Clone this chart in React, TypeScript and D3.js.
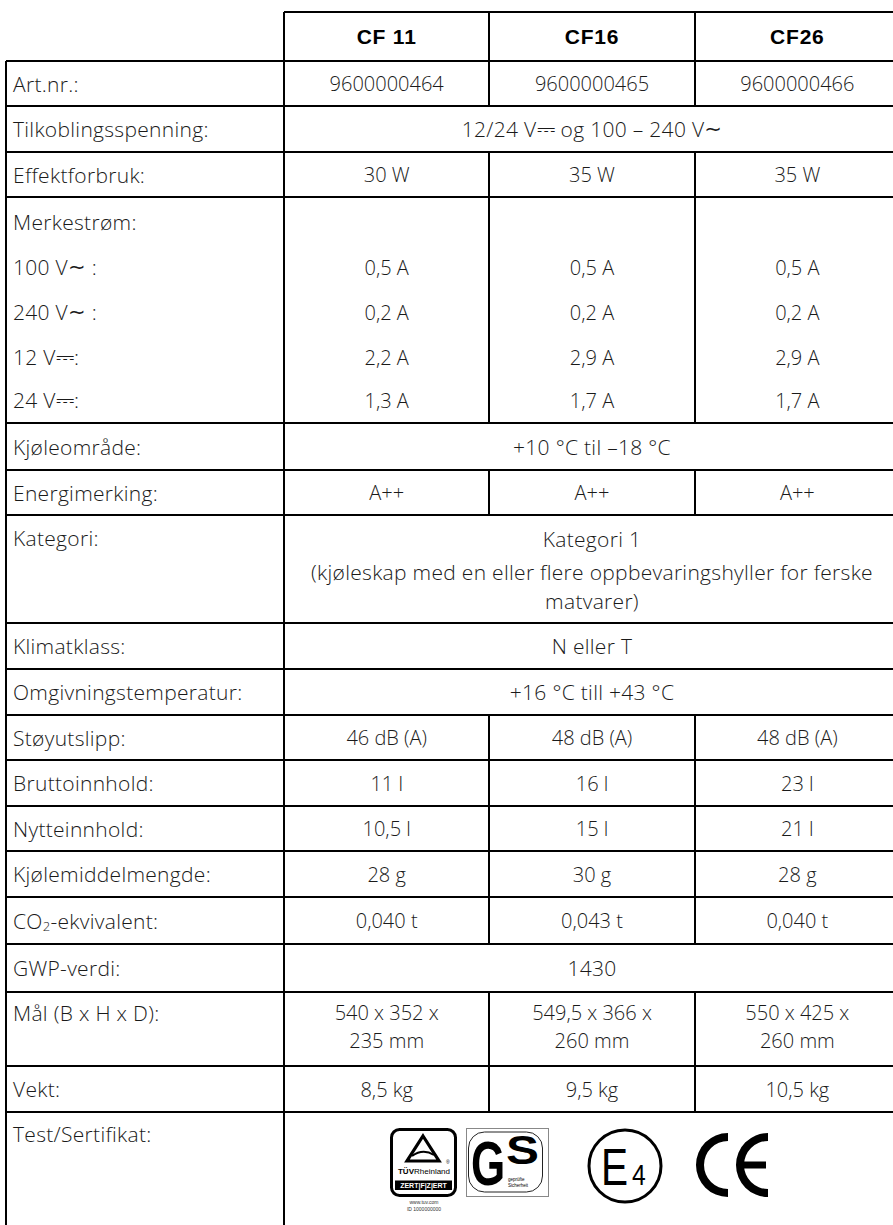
import React from "react";
import * as d3 from "d3";

// ---------- data ----------
const models = ["CF 11", "CF16", "CF26"];
const artNr = ["9600000464", "9600000465", "9600000466"];
const spenning = "12/24 V⎓ og 100 – 240 V∼";
const effekt = ["30 W", "35 W", "35 W"];
const merkeLabels = ["Merkestrøm:", "100 V∼ :", "240 V∼ :", "12 V⎓:", "24 V⎓:"];
const merke100 = ["0,5 A", "0,5 A", "0,5 A"];
const merke240 = ["0,2 A", "0,2 A", "0,2 A"];
const merke12 = ["2,2 A", "2,9 A", "2,9 A"];
const merke24 = ["1,3 A", "1,7 A", "1,7 A"];
const kjoleomrade = "+10 °C til –18 °C";
const energi = ["A++", "A++", "A++"];
const kategori = [
  "Kategori 1",
  "(kjøleskap med en eller flere oppbevaringshyller for ferske",
  "matvarer)",
];
const klimat = "N eller T";
const omgivning = "+16 °C till +43 °C";
const stoy = ["46 dB (A)", "48 dB (A)", "48 dB (A)"];
const brutto = ["11 l", "16 l", "23 l"];
const nytte = ["10,5 l", "15 l", "21 l"];
const kjolemiddel = ["28 g", "30 g", "28 g"];
const co2 = ["0,040 t", "0,043 t", "0,040 t"];
const gwp = "1430";
const malLine1 = ["540 x 352 x", "549,5 x 366 x", "550 x 425 x"];
const malLine2 = ["235 mm", "260 mm", "260 mm"];
const vekt = ["8,5 kg", "9,5 kg", "10,5 kg"];

// ---------- layout ----------
type Row = {
  label: string[];
  labelOffsets: number[];
  h: number;
  span?: string[];
  cols?: string[][];
  offsets?: number[];
  cert?: boolean;
  co2?: boolean;
};

const rows: Row[] = [
  { label: ["Art.nr.:"], labelOffsets: [0], h: 45, cols: [artNr] },
  { label: ["Tilkoblingsspenning:"], labelOffsets: [0], h: 46, span: [spenning] },
  { label: ["Effektforbruk:"], labelOffsets: [0], h: 45, cols: [effekt] },
  {
    label: merkeLabels,
    labelOffsets: [25, 70, 115, 160, 203],
    h: 226,
    cols: [["", "", ""], merke100, merke240, merke12, merke24],
    offsets: [25, 70, 115, 160, 203],
  },
  { label: ["Kjøleområde:"], labelOffsets: [0], h: 47, span: [kjoleomrade] },
  { label: ["Energimerking:"], labelOffsets: [0], h: 45, cols: [energi] },
  { label: ["Kategori:"], labelOffsets: [23], h: 108, span: kategori, offsets: [24, 57, 86] },
  { label: ["Klimatklass:"], labelOffsets: [0], h: 46, span: [klimat] },
  { label: ["Omgivningstemperatur:"], labelOffsets: [0], h: 46, span: [omgivning] },
  { label: ["Støyutslipp:"], labelOffsets: [0], h: 45, cols: [stoy] },
  { label: ["Bruttoinnhold:"], labelOffsets: [0], h: 46, cols: [brutto] },
  { label: ["Nytteinnhold:"], labelOffsets: [0], h: 45, cols: [nytte] },
  { label: ["Kjølemiddelmengde:"], labelOffsets: [0], h: 46, cols: [kjolemiddel] },
  { label: ["CO2-ekvivalent:"], labelOffsets: [0], h: 47, cols: [co2], co2: true },
  { label: ["GWP-verdi:"], labelOffsets: [0], h: 48, span: [gwp] },
  { label: ["Mål (B x H x D):"], labelOffsets: [21], h: 74, cols: [malLine1, malLine2], offsets: [20, 48] },
  { label: ["Vekt:"], labelOffsets: [0], h: 46, cols: [vekt] },
  { label: ["Test/Sertifikat:"], labelOffsets: [22], h: 113, cert: true },
];

const W = 893;
const H = 1225;
const LEFT = 6;
const LABEL_X = 13;
const HEAD_TOP = 12;
const BODY_TOP = 61;
const BODY_FONT = "'Open Sans', Inter, 'DejaVu Sans', sans-serif";
const TEXT_COLOR = "#1a1a1a";
const FS_VAL = 20;
const FS_TXT = 21;
const LS_TXT = 0.3;

function Rich(props: any) {
  const { text, ...rest } = props;
  const parts = String(text).split(/([⎓∼])/).filter((p: string) => p !== "");
  return (
    <text {...rest}>
      {parts.map((p: string, i: number) =>
        p === "⎓" ? (
          <tspan key={i} fontFamily="'DejaVu Sans', sans-serif" fontWeight={400} fontSize={23}>
            {p}
          </tspan>
        ) : p === "∼" ? (
          <tspan key={i} fontFamily="'DejaVu Sans', sans-serif" fontWeight={400} fontSize={21}>
            {p}
          </tspan>
        ) : (
          <tspan key={i}>{p}</tspan>
        )
      )}
    </text>
  );
}

function TuvLogo({ x, y }: { x: number; y: number }) {
  return (
    <g transform={`translate(${x},${y})`}>
      <rect x={1.5} y={1.5} width={64} height={66} rx={8} fill="#fff" stroke="#000" strokeWidth={3} />
      <path d="M33,8 L49,33 L17,33 Z" fill="none" stroke="#000" strokeWidth={3.2} strokeLinejoin="miter" />
      <path d="M22,28 Q33,20 44,27" fill="none" stroke="#000" strokeWidth={2} />
      <text x={56} y={36} fontSize={5} fontFamily="'Liberation Sans', Arial" fill="#000">®</text>
      <text x={34} y={46} fontSize={8} textAnchor="middle" fontFamily="'Liberation Sans', Arial" fill="#000">
        <tspan fontWeight={700}>TÜV</tspan>
        <tspan>Rheinland</tspan>
      </text>
      <rect x={5} y={52.5} width={57} height={9.5} fill="#000" />
      <text x={33.5} y={60} fontSize={7} textAnchor="middle" fontWeight={700} fontFamily="'Liberation Sans', Arial" fill="#fff">
        ZERT|F|Z|ERT
      </text>
      <text x={34} y={76} fontSize={5} textAnchor="middle" fontFamily="'Liberation Sans', Arial" fill="#333">
        www.tuv.com
      </text>
      <text x={34} y={83} fontSize={5} textAnchor="middle" fontFamily="'Liberation Sans', Arial" fill="#333">
        ID 1000000000
      </text>
    </g>
  );
}

function GsLogo({ x, y }: { x: number; y: number }) {
  return (
    <g transform={`translate(${x},${y})`}>
      <rect x={0.5} y={0.5} width={82} height={68} fill="#fff" stroke="#888" strokeWidth={1} />
      <rect x={2.5} y={4} width={74} height={60} rx={16} fill="#fff" stroke="#222" strokeWidth={1} />
      <text
        transform="translate(5,57) scale(1,1.45)"
        fontSize={44}
        fontWeight={700}
        fontFamily="'Liberation Sans', Arial"
        fill="#000"
      >
        G
      </text>
      <text
        transform="translate(40,36) scale(1.3,1.05)"
        fontSize={38}
        fontWeight={700}
        fontFamily="'Liberation Sans', Arial"
        fill="#000"
      >
        S
      </text>
      <text x={42} y={53} fontSize={4.5} fontFamily="'Liberation Sans', Arial" fill="#000">geprüfte</text>
      <text x={42} y={59} fontSize={4.5} fontFamily="'Liberation Sans', Arial" fill="#000">Sicherheit</text>
    </g>
  );
}

function E4Logo({ cx, cy }: { cx: number; cy: number }) {
  return (
    <g fontFamily="'Liberation Sans', Arial" fill="#000">
      <circle cx={cx} cy={cy} r={36} fill="none" stroke="#000" strokeWidth={3} />
      <text transform={`translate(${cx - 24},${cy + 19}) scale(0.78,1)`} fontSize={52}>
        E
      </text>
      <text transform={`translate(${cx + 7},${cy + 19}) scale(0.85,1)`} fontSize={29}>
        4
      </text>
    </g>
  );
}

function CeLogo({ x, cy }: { x: number; cy: number }) {
  const arc = d3.arc<any>();
  const half = arc({ innerRadius: 24, outerRadius: 32, startAngle: Math.PI, endAngle: 2 * Math.PI }) || "";
  return (
    <g>
      <path d={half} transform={`translate(${x + 32},${cy})`} fill="#000" />
      <path d={half} transform={`translate(${x + 72},${cy})`} fill="#000" />
      <rect x={x + 44} y={cy - 3.5} width={26} height={7} fill="#000" />
    </g>
  );
}

export default function App() {
  const xCol = d3.scaleBand<string>().domain(models).range([284, 900]).paddingInner(0).paddingOuter(0);
  const colX = (i: number) => xCol(models[i]) as number;
  const bw = xCol.bandwidth();
  const spanCenter = (284 + 900) / 2;

  const tops = [BODY_TOP, ...d3.cumsum(rows.map((r) => r.h)).map((v) => BODY_TOP + v)];

  const lines: React.ReactNode[] = [];
  lines.push(<line key="ht" x1={284} x2={900} y1={HEAD_TOP} y2={HEAD_TOP} />);
  models.forEach((m, i) => {
    lines.push(<line key={"hv" + i} x1={colX(i)} x2={colX(i)} y1={HEAD_TOP} y2={BODY_TOP} />);
  });
  lines.push(<line key="lb" x1={LEFT} x2={LEFT} y1={BODY_TOP} y2={H} />);
  lines.push(<line key="lab" x1={284} x2={284} y1={BODY_TOP} y2={H} />);
  tops.forEach((t, i) => {
    if (t < H) lines.push(<line key={"h" + i} x1={LEFT} x2={900} y1={t} y2={t} />);
  });
  rows.forEach((r, ri) => {
    if (r.cols) {
      [1, 2].forEach((ci) => {
        lines.push(
          <line key={`v${ri}-${ci}`} x1={colX(ci)} x2={colX(ci)} y1={tops[ri]} y2={tops[ri + 1]} />
        );
      });
    }
  });

  const texts: React.ReactNode[] = [];
  rows.forEach((r, ri) => {
    const top = tops[ri];
    const mid = top + r.h / 2;
    const single = r.label.length === 1 && r.labelOffsets[0] === 0;
    r.label.forEach((lab, li) => {
      const y = single ? mid : top + r.labelOffsets[li];
      if (r.co2) {
        texts.push(
          <text key={`l${ri}-${li}`} x={LABEL_X} y={y} dominantBaseline="central" fontSize={FS_TXT} letterSpacing={LS_TXT}>
            <tspan>CO</tspan>
            <tspan fontSize={13} dy={5}>2</tspan>
            <tspan dy={-5}>-ekvivalent:</tspan>
          </text>
        );
      } else {
        texts.push(
          <Rich
            key={`l${ri}-${li}`}
            text={lab}
            x={LABEL_X}
            y={y}
            dominantBaseline="central"
            fontSize={FS_TXT}
            letterSpacing={LS_TXT}
          />
        );
      }
    });
    if (r.span) {
      r.span.forEach((s, si) => {
        const y = r.offsets ? top + r.offsets[si] : mid;
        texts.push(
          <Rich
            key={`s${ri}-${si}`}
            text={s}
            x={spanCenter}
            y={y}
            textAnchor="middle"
            dominantBaseline="central"
            fontSize={FS_TXT}
            letterSpacing={LS_TXT}
          />
        );
      });
    }
    if (r.cols) {
      r.cols.forEach((lineVals, li) => {
        const y = r.offsets ? top + r.offsets[li] : mid;
        lineVals.forEach((v, ci) => {
          if (!v) return;
          texts.push(
            <text
              key={`c${ri}-${li}-${ci}`}
              x={colX(ci) + bw / 2}
              y={y}
              textAnchor="middle"
              dominantBaseline="central"
              fontSize={FS_VAL}
            >
              {v}
            </text>
          );
        });
      });
    }
  });

  const certTop = tops[rows.length - 1];

  return (
    <svg
      width={W}
      height={H}
      viewBox={`0 0 ${W} ${H}`}
      style={{ position: "absolute", left: 0, top: 0, background: "#fff" }}
    >
      <rect x={0} y={0} width={W} height={H} fill="#fff" />
      <g
        fontFamily={BODY_FONT}
        fontWeight={300}
        fill={TEXT_COLOR}
        style={{ fontFeatureSettings: '"calt" 0' }}
      >
        {texts}
      </g>
      <g fontFamily="'Liberation Sans', Arial, sans-serif" fontWeight={700} fontSize={21} fill="#000" letterSpacing={0.8}>
        {models.map((m, i) => (
          <text key={m} x={colX(i) + bw / 2} y={(HEAD_TOP + BODY_TOP) / 2} textAnchor="middle" dominantBaseline="central">
            {m}
          </text>
        ))}
      </g>
      <g stroke="#000" strokeWidth={2} shapeRendering="crispEdges">
        {lines}
      </g>
      <TuvLogo x={390} y={certTop + 16} />
      <GsLogo x={466} y={certTop + 16} />
      <E4Logo cx={625} cy={certTop + 54} />
      <CeLogo x={696} cy={certTop + 53} />
    </svg>
  );
}
